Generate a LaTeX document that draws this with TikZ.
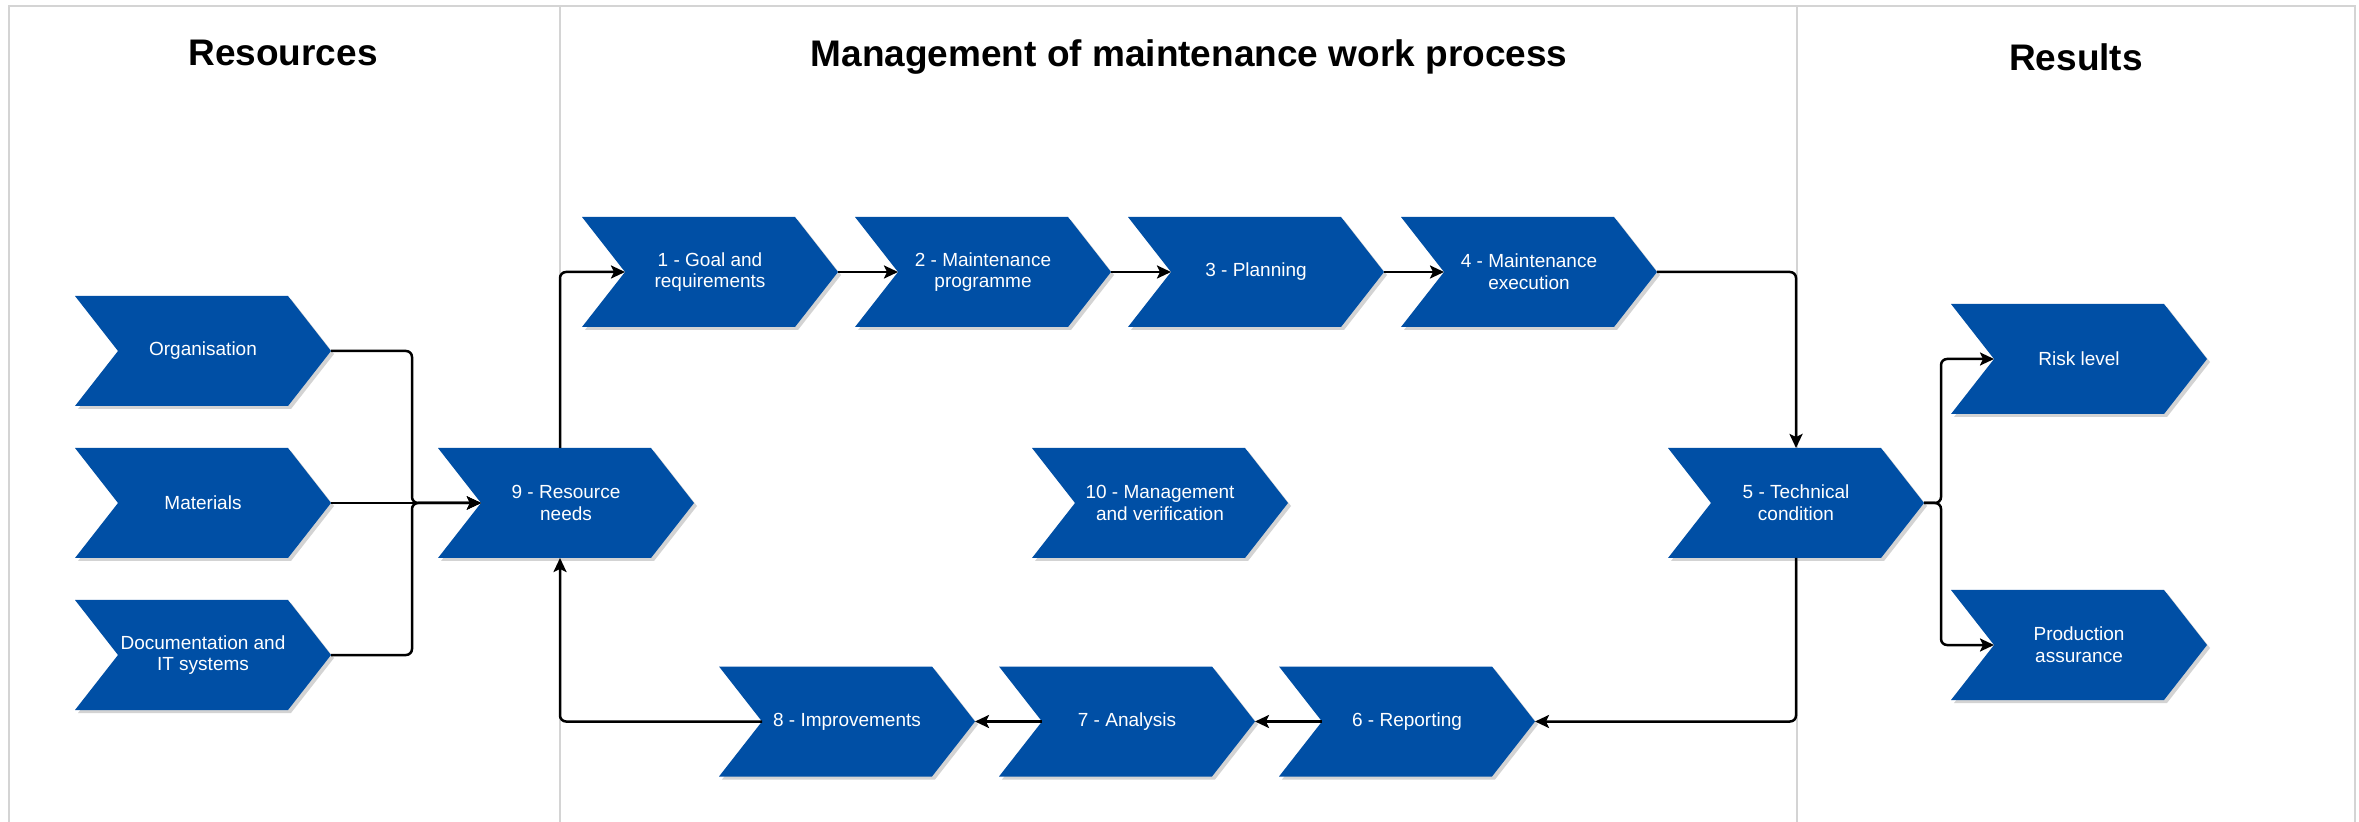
\documentclass[tikz,border=0pt]{standalone}
\usepackage{fontspec}
\setmainfont{Liberation Sans}
\usetikzlibrary{arrows.meta,calc,backgrounds}
\definecolor{cblue}{RGB}{0,79,165}
\definecolor{lgray}{RGB}{212,212,212}
\definecolor{shc}{RGB}{175,175,175}
\begin{document}
\begin{tikzpicture}[x=0.5pt,y=-0.5pt,
  chev/.style={minimum width=128pt,minimum height=55pt,inner sep=0pt,outer sep=0pt,
    text=white,font=\fontsize{9.5}{10.8}\selectfont,align=center},
  ttl/.style={font=\bfseries\fontsize{18.5}{22}\selectfont,text=black},
  conn/.style={line width=1.25pt,rounded corners=3pt,
    -{Stealth[length=7pt,width=6.5pt,inset=1.5pt]}},
  sep/.style={draw=lgray,line width=1pt}]
\useasboundingbox (0,0) rectangle (2359,822);

% titles
\node[ttl] (tres) at (283,53) {Resources};
\node[ttl] (tman) at (1189,57) {Management of maintenance work process};
\node[ttl] (tresu) at (2076,57) {Results};

% chevron nodes
\node[chev] (org)  at (203,351) {Organisation};
\node[chev] (mat)  at (203,503) {Materials};
\node[chev] (doc)  at (203,655) {Documentation and\\IT systems};
\node[chev] (n9)   at (566,503) {9 - Resource\\needs};
\node[chev] (n1)   at (710,272) {1 - Goal and\\requirements};
\node[chev] (n2)   at (983,272) {2 - Maintenance\\programme};
\node[chev] (n3)   at (1256,272) {3 - Planning};
\node[chev] (n4)   at (1529,272) {4 - Maintenance\\execution};
\node[chev] (n10)  at (1160,503) {10 - Management\\and verification};
\node[chev] (n5)   at (1796,503) {5 - Technical\\condition};
\node[chev] (risk) at (2079,359) {Risk level};
\node[chev] (prod) at (2079,645) {Production\\assurance};
\node[chev] (n8)   at (847,721.5) {8 - Improvements};
\node[chev] (n7)   at (1127,721.5) {7 - Analysis};
\node[chev] (n6)   at (1407,721.5) {6 - Reporting};

% background: frame, dividers, chevron shapes
\begin{scope}[on background layer]
  \fill[white] (0,0) rectangle (2359,822);
  \draw[sep] (9,822) -- (9,6) -- (2355,6) -- (2355,822);
  \draw[sep] (560,6) -- (560,822);
  \draw[sep] (1797,6) -- (1797,822);
  \foreach \n in {org,mat,doc,n9,n1,n2,n3,n4,n10,n5,risk,prod,n8,n7,n6}{
    \fill[shc,opacity=0.55] ([xshift=1.5pt,yshift=-1.5pt]\n.north west)
      -- ([xshift=-20pt,yshift=-1.5pt]\n.north east)
      -- ([xshift=1.5pt,yshift=-1.5pt]\n.east)
      -- ([xshift=-20pt,yshift=-1.5pt]\n.south east)
      -- ([xshift=1.5pt,yshift=-1.5pt]\n.south west)
      -- ([xshift=23pt,yshift=-1.5pt]\n.west) -- cycle;
    \fill[cblue] (\n.north west) -- ([xshift=-21.5pt]\n.north east) -- (\n.east)
      -- ([xshift=-21.5pt]\n.south east) -- (\n.south west)
      -- ([xshift=21.5pt]\n.west) -- cycle;
  }
\end{scope}

% helper coordinates
\coordinate (dv1) at (560,0);
\coordinate (bus) at (412,503);
\coordinate (split) at (1941,503);
\coordinate (n9n) at ([xshift=21.5pt]n9.west);
\coordinate (n1n) at ([xshift=21.5pt]n1.west);
\coordinate (n2n) at ([xshift=21.5pt]n2.west);
\coordinate (n3n) at ([xshift=21.5pt]n3.west);
\coordinate (n4n) at ([xshift=21.5pt]n4.west);
\coordinate (n6n) at ([xshift=21.5pt]n6.west);
\coordinate (n7n) at ([xshift=21.5pt]n7.west);
\coordinate (n8n) at ([xshift=21.5pt]n8.west);
\coordinate (riskn) at ([xshift=21.5pt]risk.west);
\coordinate (prodn) at ([xshift=21.5pt]prod.west);

% connectors
\draw[conn] (org.east) -| (bus) -- (n9n);
\draw[conn] (mat.east) -- (n9n);
\draw[conn] (doc.east) -| (bus) -- (n9n);
\draw[conn] (n9.north -| dv1) |- (n1n);
\draw[conn] (n1.east) -- (n2n);
\draw[conn] (n2.east) -- (n3n);
\draw[conn] (n3.east) -- (n4n);
\draw[conn] (n4.east) -| (n5.north);
\draw[conn] (n5.south) |- (n6.east);
\draw[conn] (n6n) -- (n7.east);
\draw[conn] (n7n) -- (n8.east);
\draw[conn] (n8n) -| (n9.south -| dv1);
\draw[conn] (n5.east) -- (split) |- (riskn);
\draw[conn] (n5.east) -- (split) |- (prodn);
\end{tikzpicture}
\end{document}
